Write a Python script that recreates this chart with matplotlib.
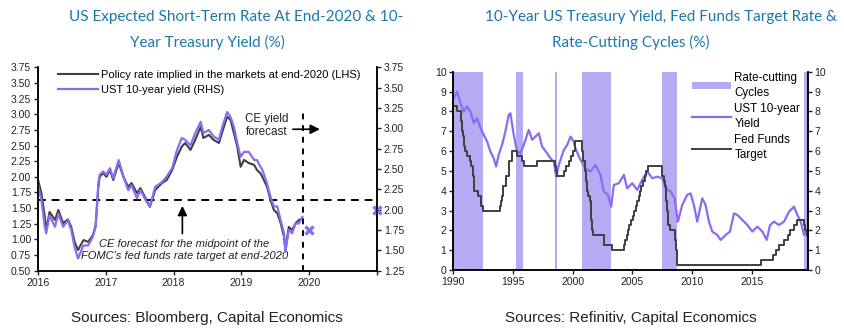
import numpy as np
import matplotlib
matplotlib.use("Agg")
import matplotlib.pyplot as plt
from matplotlib.patches import Patch
from matplotlib.lines import Line2D

# --- left panel: market-implied policy rate (LHS) vs UST 10y yield (RHS)
dates_recent = [
  2016.00, 2016.05, 2016.10, 2016.12, 2016.17, 2016.25, 2016.30, 2016.37, 2016.44, 2016.49,
  2016.54, 2016.59, 2016.67, 2016.74, 2016.81, 2016.85, 2016.89, 2016.91, 2016.96, 2017.01,
  2017.06, 2017.11, 2017.19, 2017.26, 2017.33, 2017.38, 2017.46, 2017.51, 2017.60, 2017.65,
  2017.73, 2017.83, 2017.90, 2017.98, 2018.05, 2018.12, 2018.17, 2018.25, 2018.32, 2018.40,
  2018.44, 2018.52, 2018.59, 2018.67, 2018.72, 2018.79, 2018.84, 2018.89, 2018.94, 2018.99,
  2019.04, 2019.11, 2019.19, 2019.23, 2019.28, 2019.31, 2019.38, 2019.43, 2019.48, 2019.53,
  2019.58, 2019.63, 2019.65, 2019.70, 2019.75, 2019.80, 2019.85, 2019.90]
policy_rate_2020 = [
  1.95, 1.74, 1.36, 1.15, 1.44, 1.31, 1.47, 1.26, 1.32, 1.20,
  0.96, 0.83, 0.99, 0.96, 1.07, 1.22, 1.84, 2.00, 2.06, 2.00,
  2.11, 1.95, 2.22, 2.00, 1.84, 1.90, 1.74, 1.82, 1.63, 1.52,
  1.79, 1.90, 1.95, 2.11, 2.32, 2.48, 2.54, 2.43, 2.59, 2.80,
  2.62, 2.67, 2.59, 2.54, 2.72, 2.96, 2.91, 2.70, 2.48, 2.16,
  2.27, 2.22, 2.19, 2.11, 2.06, 2.00, 1.84, 1.63, 1.47, 1.42,
  1.26, 1.04, 0.83, 1.20, 1.15, 1.26, 1.31, 1.34]
ust_10y_recent = [
  2.30, 2.12, 1.79, 1.71, 1.93, 1.79, 1.95, 1.79, 1.87, 1.75,
  1.54, 1.40, 1.56, 1.56, 1.67, 1.79, 2.32, 2.43, 2.47, 2.43,
  2.51, 2.39, 2.61, 2.41, 2.24, 2.30, 2.14, 2.24, 2.10, 2.04,
  2.28, 2.34, 2.41, 2.51, 2.73, 2.88, 2.86, 2.79, 2.94, 3.08,
  2.94, 2.98, 2.90, 2.86, 3.02, 3.20, 3.14, 3.02, 2.82, 2.65,
  2.71, 2.71, 2.61, 2.61, 2.53, 2.49, 2.32, 2.16, 2.04, 2.04,
  1.87, 1.71, 1.48, 1.75, 1.71, 1.83, 1.83, 1.91]
ce_yield_dates = [2020.0, 2021.0]
ce_yield_forecast = [1.75, 2.0]
ce_policy_midpoint = 1.625
left_xticks = [2016, 2017, 2018, 2019, 2020, 2021]
left_xlabels = ["2016", "2017", "2018", "2019", "2020", ""]

# --- right panel: long history of UST 10y, fed funds target, cutting cycles
dates_long = [
  1990.03, 1990.31, 1990.59, 1990.87, 1991.15, 1991.43, 1991.71, 1991.99, 1992.27, 1992.55,
  1992.83, 1993.10, 1993.38, 1993.58, 1993.80, 1994.08, 1994.36, 1994.64, 1994.78, 1995.06,
  1995.34, 1995.62, 1995.90, 1996.32, 1996.60, 1996.88, 1997.16, 1997.44, 1997.86, 1998.14,
  1998.42, 1998.62, 1998.84, 1999.26, 1999.54, 1999.82, 2000.09, 2000.23, 2000.65, 2001.07,
  2001.49, 2001.91, 2002.33, 2002.61, 2002.95, 2003.23, 2003.45, 2003.87, 2004.29, 2004.57,
  2004.99, 2005.41, 2005.83, 2006.25, 2006.67, 2007.09, 2007.51, 2007.79, 2008.21, 2008.54,
  2008.82, 2009.18, 2009.60, 2009.88, 2010.16, 2010.44, 2010.86, 2011.14, 2011.42, 2011.70,
  2012.12, 2012.40, 2012.82, 2013.18, 2013.52, 2013.80, 2014.22, 2014.64, 2015.06, 2015.48,
  2015.90, 2016.26, 2016.54, 2016.88, 2017.29, 2017.71, 2018.13, 2018.55, 2018.83, 2019.11,
  2019.39, 2019.53, 2019.66]
ust_10y_long = [
  8.67, 9.00, 8.42, 8.00, 8.25, 8.00, 7.41, 7.66, 7.16, 6.82,
  6.48, 5.98, 5.64, 5.22, 5.81, 6.31, 6.98, 7.83, 7.91, 6.82,
  5.98, 5.89, 6.31, 7.07, 6.57, 6.73, 6.90, 6.23, 5.89, 5.64,
  5.47, 4.71, 5.30, 6.06, 6.31, 6.73, 6.48, 6.14, 5.56, 5.13,
  4.97, 5.30, 4.80, 3.96, 3.79, 3.20, 4.29, 4.38, 4.80, 4.12,
  4.38, 4.04, 4.55, 4.97, 4.63, 4.71, 4.63, 4.12, 3.96, 3.62,
  2.44, 3.28, 3.79, 3.87, 3.28, 2.44, 3.62, 3.28, 2.44, 1.94,
  1.77, 1.52, 1.77, 1.94, 2.86, 2.78, 2.53, 2.27, 1.94, 2.19,
  1.94, 1.52, 2.27, 2.44, 2.27, 2.44, 2.94, 3.20, 2.78, 2.44,
  1.77, 1.94, 1.75]
ff_dates = [
  1990.00, 1990.33, 1990.63, 1990.67, 1990.73, 1990.76, 1990.82, 1990.89, 1990.98, 1991.13,
  1991.40, 1991.50, 1991.63, 1991.65, 1991.73, 1991.77, 1992.07, 1992.30, 1992.48, 1993.89,
  1994.02, 1994.09, 1994.17, 1994.42, 1994.67, 1994.88, 1995.31, 1995.76, 1995.88, 1997.03,
  1998.54, 1998.59, 1998.68, 1999.30, 1999.44, 1999.68, 1999.89, 2000.02, 2000.17, 2000.80,
  2000.88, 2001.01, 2001.09, 2001.17, 2001.29, 2001.44, 2001.51, 2001.55, 2001.65, 2001.74,
  2002.65, 2003.28, 2004.30, 2004.41, 2004.52, 2004.66, 2004.75, 2004.89, 2005.02, 2005.14,
  2005.30, 2005.40, 2005.52, 2005.63, 2005.75, 2005.88, 2006.04, 2006.16, 2006.29, 2007.51,
  2007.63, 2007.74, 2007.86, 2007.88, 2008.01, 2008.13, 2008.57, 2008.63, 2008.76, 2015.76,
  2016.75, 2017.00, 2017.25, 2017.75, 2018.02, 2018.25, 2018.53, 2018.77, 2019.38, 2019.51,
  2019.63, 2019.68]
ff_target = [
  8.25, 8.00, 7.75, 7.50, 7.25, 7.00, 6.75, 6.25, 6.00, 5.75,
  5.50, 5.25, 5.00, 4.75, 4.50, 4.00, 3.75, 3.25, 3.00, 3.25,
  3.50, 3.75, 4.25, 4.75, 5.50, 6.00, 5.75, 5.50, 5.25, 5.50,
  5.25, 5.00, 4.75, 5.00, 5.25, 5.50, 5.75, 6.00, 6.50, 6.00,
  5.50, 5.00, 4.50, 4.00, 3.75, 3.50, 3.00, 2.50, 2.00, 1.75,
  1.25, 1.00, 1.25, 1.50, 1.75, 2.00, 2.25, 2.50, 2.75, 3.00,
  3.25, 3.50, 3.75, 4.00, 4.25, 4.50, 4.75, 5.00, 5.25, 4.75,
  4.50, 4.25, 3.50, 3.00, 2.25, 2.00, 1.50, 1.00, 0.25, 0.50,
  0.75, 1.00, 1.25, 1.50, 1.75, 2.00, 2.25, 2.50, 2.25, 2.00,
  1.75, 1.75]
cut_starts = [1990.0, 1995.25, 1998.55, 2000.80, 2007.50, 2019.38]
cut_ends = [1992.50, 1995.80, 1998.68, 2003.25, 2008.77, 2019.70]
right_xticks = [1990, 1995, 2000, 2005, 2010, 2015]

PURPLE = "#8a6cf4"
GREY = "#3f3f3f"
SHADE = "#b4abf3"
TITLE_BLUE = "#1a78ab"
SANS = ["Liberation Sans", "DejaVu Sans"]
HUMANIST = ["Lato", "DejaVu Sans"]
TICK_SIZE = 7.5
NOTE_SIZE = 8

plt.rcParams["font.family"] = SANS
plt.rcParams["axes.linewidth"] = 1.1

fig = plt.figure(figsize=(8.45, 3.33), dpi=100)


def style_axis(ax):
  ax.spines["top"].set_visible(False)
  ax.tick_params(axis="both", direction="out", length=3, width=1.0,
                 labelsize=TICK_SIZE, colors="#222222", pad=2)


# ---------------- left panel ----------------
ax1 = fig.add_axes([0.045, 0.187, 0.401, 0.611])
ax1r = ax1.twinx()
for a in (ax1, ax1r):
  style_axis(a)
ax1.set_xlim(2016, 2021)
ax1.set_ylim(0.5, 3.75)
ax1.set_yticks(np.arange(0.5, 3.76, 0.25))
ax1.yaxis.set_major_formatter(matplotlib.ticker.FormatStrFormatter("%.2f"))
ax1r.set_ylim(1.25, 3.75)
ax1r.set_yticks(np.arange(1.25, 3.76, 0.25))
ax1r.yaxis.set_major_formatter(matplotlib.ticker.FormatStrFormatter("%.2f"))
ax1.set_xticks(left_xticks)
ax1.set_xticklabels(left_xlabels)

ax1.plot(dates_recent, policy_rate_2020, color=GREY, lw=1.5, zorder=3)
ax1r.plot(dates_recent, ust_10y_recent, color=PURPLE, lw=1.6, zorder=2)
ax1r.plot(ce_yield_dates, ce_yield_forecast, ls="none", marker="x",
          ms=6, mew=2.4, color=PURPLE, clip_on=False)

ax1.axhline(ce_policy_midpoint, color="black", lw=1.4, ls=(0, (4, 3)))
ax1.plot([2019.91, 2019.91], [0.5, 3.10], color="black", lw=1.4,
         ls=(0, (3, 3)))

ax1.annotate("", xy=(2018.13, 1.58), xytext=(2018.13, 1.05),
             arrowprops=dict(arrowstyle="-|>", color="black", lw=1.2,
                             mutation_scale=14))
ax1.annotate("", xy=(2020.2, 2.76), xytext=(2019.72, 2.76),
             arrowprops=dict(arrowstyle="-|>", color="black", lw=1.2,
                             mutation_scale=14))
ax1.text(2019.06, 2.82, "CE yield\nforecast", fontsize=NOTE_SIZE + 0.4,
         ha="left", va="center", linespacing=1.2, color="#222222")
ax1.text(2018.16, 0.83,
         "CE forecast for the midpoint of the\n"
         "FOMC's fed funds rate target at end-2020",
         fontsize=NOTE_SIZE, style="italic", ha="center", va="center",
         linespacing=1.25, color="#222222")

left_handles = [Line2D([], [], color=GREY, lw=1.5),
                Line2D([], [], color=PURPLE, lw=1.6)]
ax1.legend(left_handles,
           ["Policy rate implied in the markets at end-2020 (LHS)",
            "UST 10-year yield (RHS)"],
           loc="upper left", bbox_to_anchor=(0.04, 1.02), frameon=False,
           fontsize=NOTE_SIZE, handlelength=3.6, handletextpad=0.25,
           labelspacing=0.45, borderaxespad=0.2)

# ---------------- right panel ----------------
ax2 = fig.add_axes([0.5365, 0.189, 0.4194, 0.5955])
ax2r = ax2.twinx()
for a in (ax2, ax2r):
  style_axis(a)
  a.set_ylim(0, 10)
  a.set_yticks(range(0, 11))
ax2.set_xlim(1990, 2019.7)
ax2.set_xticks(right_xticks)

for start, end in zip(cut_starts, cut_ends):
  ax2.axvspan(start, end, color=SHADE, lw=0, zorder=0)
ax2.plot(dates_long, ust_10y_long, color=PURPLE, lw=1.6, zorder=2)
ax2.plot(ff_dates, ff_target, color=GREY, lw=1.4, drawstyle="steps-post",
         zorder=3)

right_handles = [Patch(facecolor=SHADE, edgecolor="none"),
                 Line2D([], [], color=PURPLE, lw=1.6),
                 Line2D([], [], color=GREY, lw=1.4)]
leg = ax2.legend(right_handles, ["Rate-cutting\nCycles", "UST 10-year\nYield",
                                 "Fed Funds\nTarget"],
                 loc="upper left", bbox_to_anchor=(0.655, 1.035),
                 frameon=False, fontsize=NOTE_SIZE + 0.4, handlelength=3.3,
                 handleheight=0.5, handletextpad=0.3, labelspacing=0.35,
                 borderaxespad=0.2)
for t in leg.get_texts():
  t.set_linespacing(1.35)

# ---------------- titles and sources ----------------
fig.text(0.280, 0.949, "US Expected Short-Term Rate At End-2020 & 10-",
         ha="center", va="center", fontsize=11, color=TITLE_BLUE,
         family=HUMANIST)
fig.text(0.245, 0.871, "Year Treasury Yield (%)", ha="center", va="center",
         fontsize=11, color=TITLE_BLUE, family=HUMANIST)
fig.text(0.782, 0.949, "10-Year US Treasury Yield, Fed Funds Target Rate &",
         ha="center", va="center", fontsize=11, color=TITLE_BLUE,
         family=HUMANIST)
fig.text(0.747, 0.871, "Rate-Cutting Cycles (%)", ha="center", va="center",
         fontsize=11, color=TITLE_BLUE, family=HUMANIST)
fig.text(0.245, 0.045, "Sources: Bloomberg, Capital Economics",
         ha="center", va="center", fontsize=11, color="#222222")
fig.text(0.746, 0.045, "Sources: Refinitiv, Capital Economics",
         ha="center", va="center", fontsize=11, color="#222222")

fig.savefig("out.png", dpi=100)
